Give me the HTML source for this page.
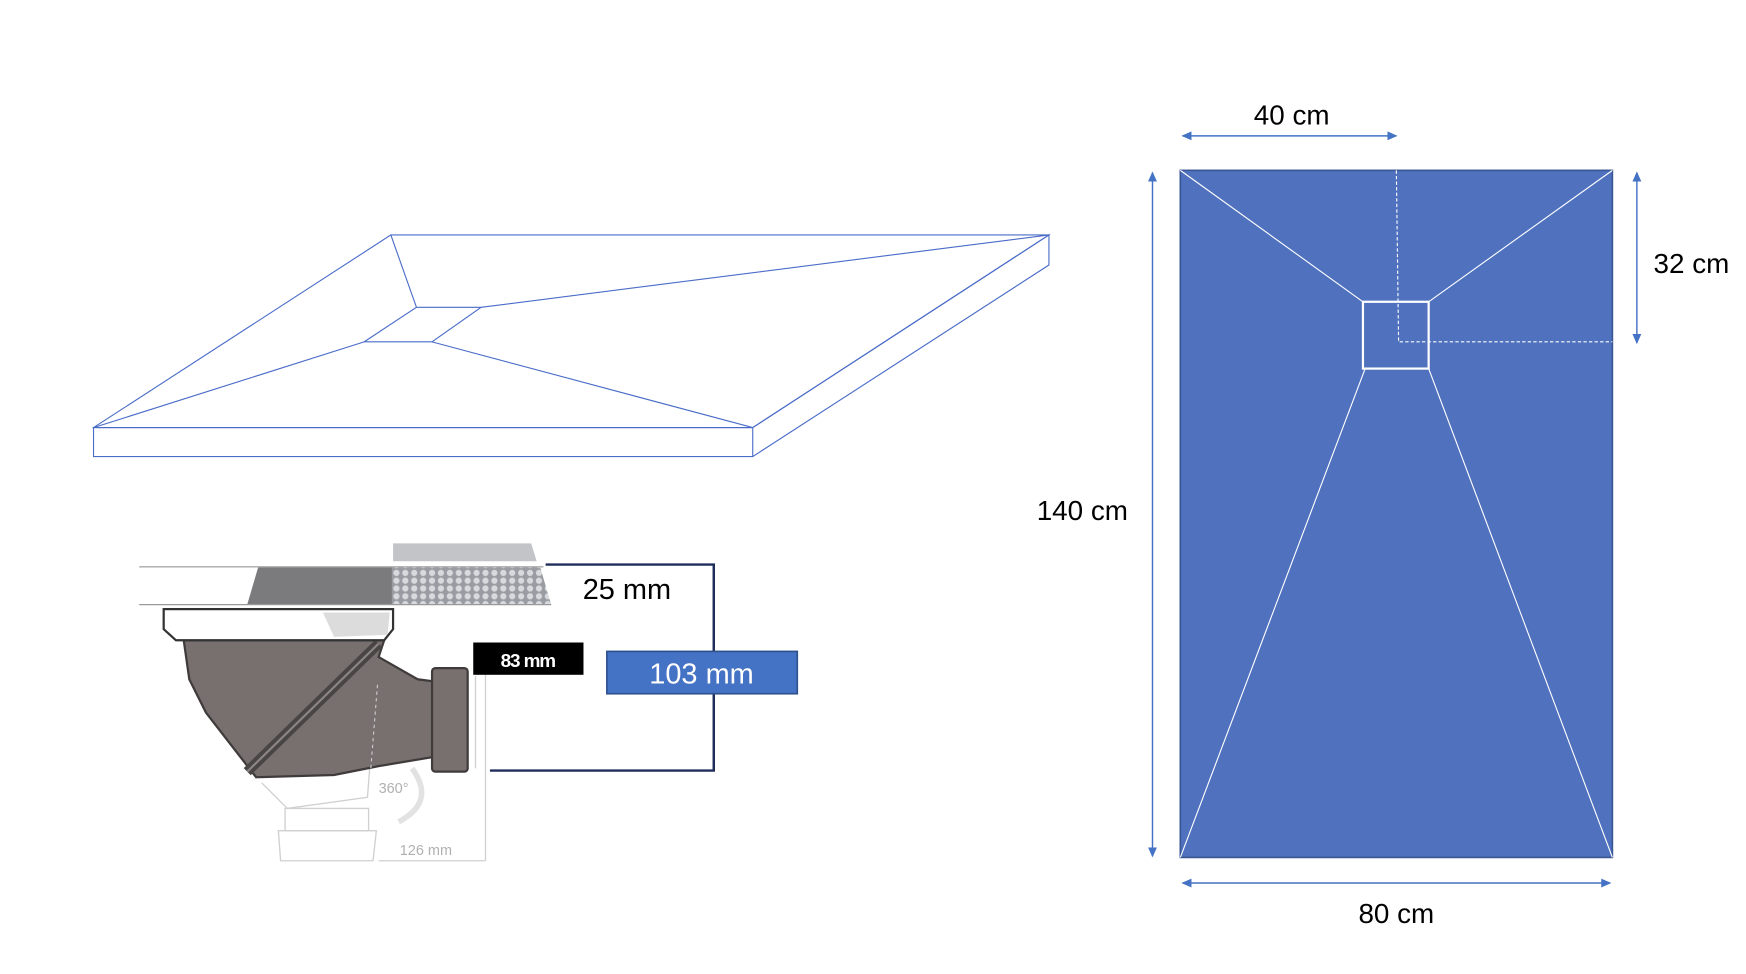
<!DOCTYPE html>
<html><head><meta charset="utf-8"><style>
html,body{margin:0;padding:0;background:#fff;}
svg{display:block;}
text{font-family:"Liberation Sans","DejaVu Sans",sans-serif;}
</style></head><body>
<svg width="1746" height="974" viewBox="0 0 1568 874.7" xmlns="http://www.w3.org/2000/svg">
<defs>
<marker id="ar" markerWidth="10" markerHeight="10" refX="8" refY="5" orient="auto-start-reverse" markerUnits="userSpaceOnUse">
<path d="M0,1 L9,5 L0,9 Z" fill="#4472c4"/></marker>
<pattern id="hex" width="8" height="7" patternUnits="userSpaceOnUse">
<rect width="8" height="7" fill="#9a9ca3"/>
<circle cx="4" cy="3.5" r="2.8" fill="#d8d9dc"/>
</pattern>
</defs>

<!-- 3D tray -->
<g fill="none" stroke="#4a6cc8" stroke-width="1">
<path d="M84,384 L351,211 L942,211 L676,384 Z"/>
<rect x="84" y="384" width="592" height="26"/>
<path d="M676,384 L942,211 L942,238 L676,410"/>
<path d="M374,276 L432,276 L388,307 L327,307 Z"/>
<path d="M351,211 L374,276 M942,211 L432,276 M84,384 L327,307 M676,384 L388,307"/>
</g>

<!-- floor layers -->
<path d="M353,488 L477,488 L482,504 L353,504 Z" fill="#c3c4c7"/>
<path d="M232,509 L352,509 L352,543 L222,543 Z" fill="#7b7b7d"/>
<path d="M352,509 L485,509 L495,543 L352,543 Z" fill="url(#hex)"/>
<line x1="125" y1="509" x2="488" y2="509" stroke="#aaa" stroke-width="1.2"/>
<line x1="125" y1="543" x2="495" y2="543" stroke="#999" stroke-width="1.2"/>

<!-- faded lower parts -->
<g fill="none" stroke="#d0d0d0" stroke-width="1.2">
<path d="M235,703 L258,726 L330,716 L332,690"/>
<rect x="256" y="726" width="75" height="20"/>
<path d="M250,746 L338,746 L335,773 L252,773 Z"/>
<line x1="436" y1="606" x2="436" y2="773"/>
<line x1="340" y1="773" x2="436" y2="773"/>
<line x1="427" y1="607" x2="427" y2="690"/>
<path d="M370,690 Q392,720 358,738" stroke-width="5" stroke="#e2e2e2"/>
</g>
<text x="340" y="712" font-size="13" fill="#b0b0b0">360°</text>
<text x="359" y="768" font-size="13" fill="#b0b0b0">126 mm</text>

<!-- drain body -->
<path d="M165,575 L345,575 L340,590 L375,610 L390,612 L388,680 L340,688 L300,696 L230,698 L185,640 L170,610 Z" fill="#77706f" stroke="#3f3b3b" stroke-width="2"/>
<path d="M222,693 L340,578" stroke="#4a4545" stroke-width="9"/>
<path d="M222,693 L340,578" stroke="#8a8484" stroke-width="2"/>
<rect x="388" y="600" width="32" height="93" rx="3" fill="#77706f" stroke="#3f3b3b" stroke-width="2"/>
<line x1="339" y1="615" x2="333" y2="690" stroke="#ccc" stroke-dasharray="3,3"/>
<path d="M147,547 L353,547 L353,565 L345,575 L158,575 L147,565 Z" fill="#fff" stroke="#333" stroke-width="2"/>
<path d="M290,550 L350,550 L348,570 L300,572 Z" fill="#dcdcdc"/>

<!-- bracket -->
<path d="M490,507 L641,507 L641,692 L440,692" fill="none" stroke="#1f2d5a" stroke-width="2.2"/>
<text x="563" y="538" font-size="26" text-anchor="middle" fill="#000">25 mm</text>
<rect x="425" y="577" width="99" height="29" fill="#000"/>
<text x="474" y="599" font-size="17" font-weight="bold" text-anchor="middle" fill="#fff" letter-spacing="-1">83 mm</text>
<rect x="545" y="585" width="171" height="38" fill="#4472c4" stroke="#2f528f" stroke-width="1.5"/>
<text x="630" y="614" font-size="26" text-anchor="middle" fill="#fff">103 mm</text>

<!-- right plan -->
<rect x="1060" y="153" width="388" height="617" fill="#4f71be" stroke="#3a5795" stroke-width="1.5"/>
<g stroke="#fff" fill="none" stroke-width="1">
<path d="M1060,153 L1224,271 M1448,153 L1283,271 M1226,331 L1060,770 M1283,331 L1448,770"/>
<rect x="1224" y="271" width="59" height="60" stroke-width="2"/>
<path d="M1254,153 L1256,307 L1448,307" stroke-dasharray="3,2"/>
</g>

<!-- dims -->
<g stroke="#4472c4" stroke-width="1.3" fill="none">
<line x1="1062" y1="122" x2="1254" y2="122" marker-start="url(#ar)" marker-end="url(#ar)"/>
<line x1="1035" y1="155" x2="1035" y2="769" marker-start="url(#ar)" marker-end="url(#ar)"/>
<line x1="1470" y1="155" x2="1470" y2="308" marker-start="url(#ar)" marker-end="url(#ar)"/>
<line x1="1062" y1="793" x2="1446" y2="793" marker-start="url(#ar)" marker-end="url(#ar)"/>
</g>
<g font-size="25" fill="#000">
<text x="1160" y="112" text-anchor="middle">40 cm</text>
<text x="972" y="467" text-anchor="middle">140 cm</text>
<text x="1519" y="245" text-anchor="middle">32 cm</text>
<text x="1254" y="829" text-anchor="middle">80 cm</text>
</g>
</svg>
</body></html>
